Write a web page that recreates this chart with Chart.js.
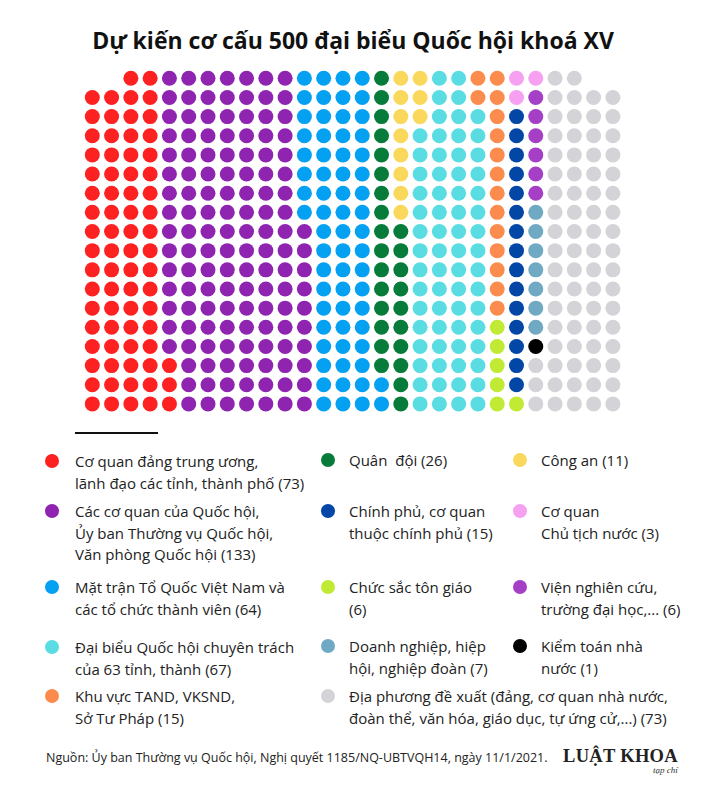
<!DOCTYPE html>
<html lang="vi">
<head>
<meta charset="utf-8">
<script src="https://cdn.jsdelivr.net/npm/chart.js@4.4.1/dist/chart.umd.min.js"></script>
<style>
  body { margin: 0; background: #fff; font-family: "Open Sans", sans-serif; }
  #page { position: relative; width: 706px; height: 800px; overflow: hidden; }
  #title { position: absolute; left: 0; width: 706px; top: 24px; text-align: center;
           font-weight: 700; font-size: 23px; color: #111; line-height: 32px; }
  #grid { position: absolute; left: 0; top: 60px; width: 706px; height: 360px; }
  #rule { position: absolute; left: 75px; top: 432px; width: 83px; height: 2px; background: #111; }
  .dot { position: absolute; width: 14px; height: 14px; border-radius: 50%; }
  .lbl { position: absolute; font-size: 15px; line-height: 21.5px; color: #222; white-space: pre; }
  #source { position: absolute; left: 46px; top: 749px; font-size: 12.5px; color: #222; }
  #brand { position: absolute; left: 563px; top: 746px; font-family: "Liberation Serif", "DejaVu Serif", serif;
           font-weight: 700; font-size: 18.5px; color: #222; letter-spacing: 0.3px; }
  #brand2 { position: absolute; left: 653px; top: 765px; font-family: "Liberation Serif", serif;
            font-style: italic; font-size: 9px; color: #333; }
</style>
</head>
<body>
<div id="page">
  <div id="title">Dự kiến cơ cấu 500 đại biểu Quốc hội khoá XV</div>
  <div id="grid"><canvas id="seats"></canvas></div>
  <div id="rule"></div>
  <div id="legend"></div>
  <div id="source">Nguồn: Ủy ban Thường vụ Quốc hội, Nghị quyết 1185/NQ-UBTVQH14, ngày 11/1/2021.</div>
  <div id="brand">LUẬT KHOA</div>
  <div id="brand2">tạp chí</div>
</div>
<script>
// nhom dai bieu, theo thu tu xep ghe tren luoi
const groups = ['red', 'purple', 'blue', 'green', 'yellow', 'cyan', 'orange',
                'lime', 'darkblue', 'pink', 'violet', 'steel', 'black', 'grey'];
const seatCounts = [73, 133, 64, 26, 11, 67, 15, 6, 15, 3, 6, 7, 1, 73];
const groupLabels = [
    ['Cơ quan đảng trung ương,', 'lãnh đạo các tỉnh, thành phố'],
    ['Các cơ quan của Quốc hội,', 'Ủy ban Thường vụ Quốc hội,', 'Văn phòng Quốc hội'],
    ['Mặt trận Tổ Quốc Việt Nam và', 'các tổ chức thành viên'],
    ['Quân  đội'],
    ['Công an'],
    ['Đại biểu Quốc hội chuyên trách', 'của 63 tỉnh, thành'],
    ['Khu vực TAND, VKSND,', 'Sở Tư Pháp'],
    ['Chức sắc tôn giáo', ''],
    ['Chính phủ, cơ quan', 'thuộc chính phủ'],
    ['Cơ quan', 'Chủ tịch nước'],
    ['Viện nghiên cứu,', 'trường đại học,...'],
    ['Doanh nghiệp, hiệp', 'hội, nghiệp đoàn'],
    ['Kiểm toán nhà', 'nước'],
    ['Địa phương đề xuất (đảng, cơ quan nhà nước,', 'đoàn thể, văn hóa, giáo dục, tự ứng cử,...)']
];

const colors = ['#fe2121', '#8e24b0', '#04a0f2', '#077c3a', '#f9d85c', '#5adde2', '#fb8c4d',
                '#c1ea34', '#0246a6', '#f6a0f1', '#a53fc5', '#70a9c3', '#000000', '#d4d3d8'];

// luoi 28 cot x 18 hang, hang tren cung cua 2 cot dau va 2 cot cuoi bo trong
const nCols = 28;
const nRows = 18;
const firstRow = [2, 2, 1, 1, 1, 1, 1, 1, 1, 1, 1, 1, 1, 1, 1, 1, 1, 1, 1, 1, 1, 1, 1, 1, 1, 1, 2, 2];
// huong xep ghe moi cot: U = tu duoi len, D = tu tren xuong
const colDirection = ('UUUUUUUUUUUUUUUUU' + 'D' + 'UUU' + 'D' + 'U' + 'D' + 'UUUU').split('');

const points = groups.map(() => []);
let g = 0, used = 0;
for (let c = 1; c <= nCols; c++) {
    const rows = [];
    for (let r = firstRow[c - 1]; r <= nRows; r++) rows.push(r);
    if (colDirection[c - 1] === 'U') rows.reverse();
    rows.forEach(r => {
        while (g < groups.length && used >= seatCounts[g]) { g++; used = 0; }
        if (g < groups.length) {
            points[g].push({ x: c, y: r });
            used++;
        }
    });
}

const seatChart = new Chart(document.getElementById('seats'), {
    type: 'scatter',
    data: {
        datasets: groups.map((name, i) => ({
            label: groupLabels[i].join(' ') + ' (' + seatCounts[i] + ')',
            data: points[i],
            backgroundColor: colors[i],
            borderWidth: 0,
            pointRadius: 7.5,
            pointHoverRadius: 7.5,
            clip: false
        }))
    },
    options: {
        responsive: true,
        maintainAspectRatio: false,
        animation: false,
        layout: { padding: { left: 92.3, right: 93.1, top: 18.3, bottom: 16.1 } },
        scales: {
            x: { type: 'linear', min: 1, max: nCols, display: false },
            y: { type: 'linear', min: 1, max: nRows, reverse: true, display: false }
        },
        plugins: { legend: { display: false }, tooltip: { enabled: true } }
    }
});

// chu thich: [cot chu thich, tam dong dau]
const legendSlot = [
    [0, 462], [0, 512], [0, 588], [1, 461], [2, 461], [0, 648], [0, 697],
    [1, 588], [1, 512], [2, 512], [2, 588], [1, 647], [2, 647], [1, 697]
];
const dotX = [52, 328, 520];
const textX = [75, 349, 541];

const legend = document.getElementById('legend');
groups.forEach((name, i) => {
    const [col, y] = legendSlot[i];
    const dot = document.createElement('div');
    dot.className = 'dot';
    dot.style.background = colors[i];
    dot.style.left = (dotX[col] - 7) + 'px';
    dot.style.top = (y - 8) + 'px';
    legend.appendChild(dot);

    const lines = groupLabels[i].slice();
    const last = lines.length - 1;
    lines[last] = (lines[last] ? lines[last] + ' ' : '') + '(' + seatCounts[i] + ')';
    const lbl = document.createElement('div');
    lbl.className = 'lbl';
    lbl.textContent = lines.join('\n');
    lbl.style.left = textX[col] + 'px';
    lbl.style.top = (y - 11) + 'px';
    legend.appendChild(lbl);
});
</script>
</body>
</html>
